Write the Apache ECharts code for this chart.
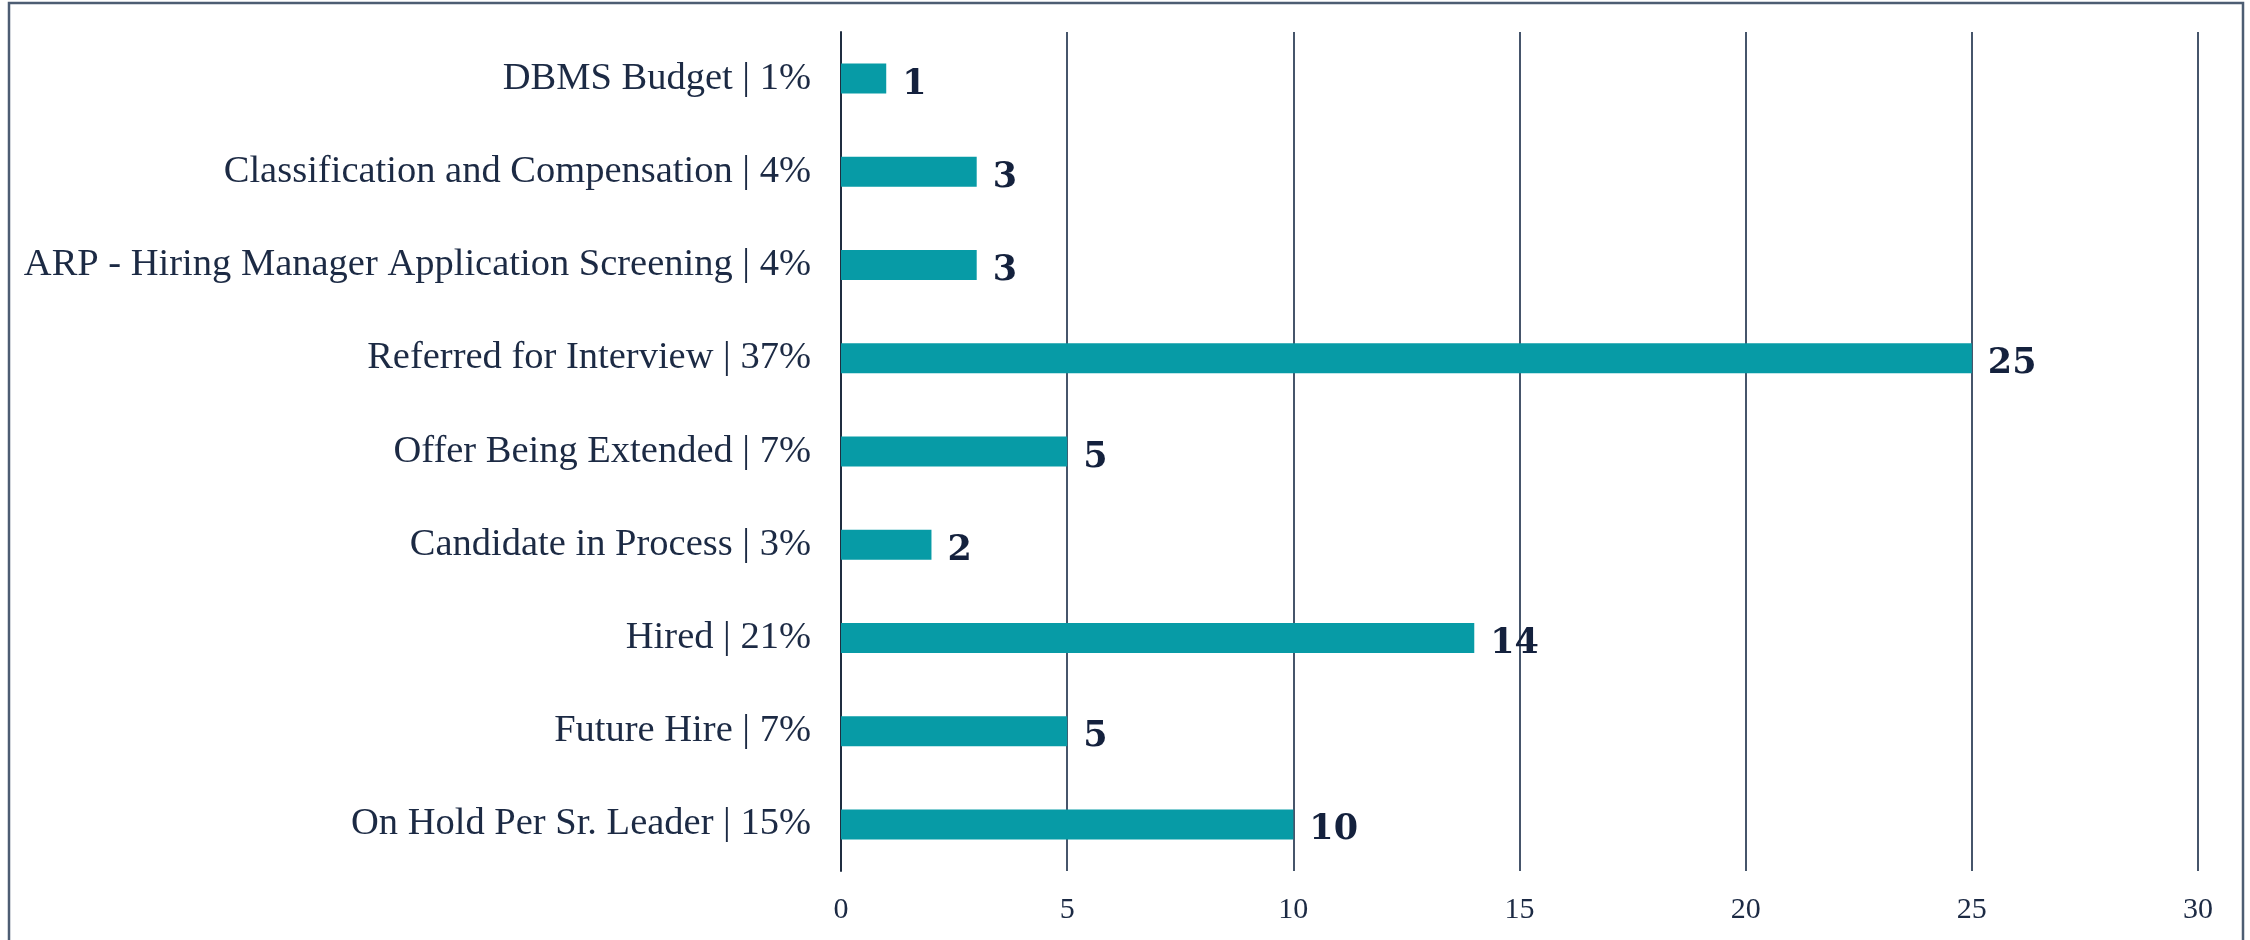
<!DOCTYPE html>
<html>
<head>
<meta charset="utf-8">
<script src="https://cdn.jsdelivr.net/npm/echarts@6/dist/echarts.min.js"></script>
<style>
  html, body { margin: 0; padding: 0; background: #ffffff; }
  #chart { width: 2250px; height: 940px; }
</style>
</head>
<body>
<div id="chart"></div>
<script>
// Requisition status, top to bottom
const statuses = [
  'DBMS Budget',
  'Classification and Compensation',
  'ARP - Hiring Manager Application Screening',
  'Referred for Interview',
  'Offer Being Extended',
  'Candidate in Process',
  'Hired',
  'Future Hire',
  'On Hold Per Sr. Leader'
];
// Count of positions in each status
const counts = [1, 3, 3, 25, 5, 2, 14, 5, 10];
// Share of all positions (percent), shown after the status name
const shares = [1, 4, 4, 37, 7, 3, 21, 7, 15];
// Value axis ticks
const axisMin = 0;
const axisMax = 30;
const axisStep = 5;

const categoryLabels = statuses.map((s, i) => s + ' | ' + shares[i] + '%');

const chart = echarts.init(document.getElementById('chart'), null, { renderer: 'canvas' });

const ink = '#1c2a44';
const gridColor = '#46556b';

chart.setOption({
  backgroundColor: '#ffffff',
  animation: false,
  graphic: [{
    type: 'rect',
    shape: { x: 9, y: 3, width: 2234, height: 1000 },
    style: { fill: 'none', stroke: '#4d5d73', lineWidth: 2.5 },
    silent: true
  }],
  grid: { left: 841, right: 52, top: 32, bottom: 69, containLabel: false },
  xAxis: {
    type: 'value',
    min: axisMin,
    max: axisMax,
    interval: axisStep,
    axisLine: { show: false },
    axisTick: { show: false },
    splitLine: { show: true, lineStyle: { color: gridColor, width: 2 } },
    axisLabel: {
      margin: 24,
      color: ink,
      fontFamily: '"Liberation Serif", "DejaVu Serif", serif',
      fontSize: 30
    }
  },
  yAxis: {
    type: 'category',
    inverse: true,
    data: categoryLabels,
    axisLine: { show: true, lineStyle: { color: '#1f2d40', width: 2 } },
    axisTick: { show: false },
    splitLine: { show: false },
    axisLabel: {
      margin: 30,
      color: ink,
      fontFamily: '"Liberation Serif", "DejaVu Serif", serif',
      fontSize: 38.5
    }
  },
  series: [{
    type: 'bar',
    data: counts,
    barWidth: 30,
    itemStyle: { color: '#079ba6' },
    label: {
      show: true,
      position: 'right',
      distance: 16,
      offset: [0, 6],
      color: '#14213d',
      fontFamily: '"DejaVu Serif", "Liberation Serif", serif',
      fontWeight: 'bold',
      fontSize: 35
    }
  }]
});
</script>
</body>
</html>
